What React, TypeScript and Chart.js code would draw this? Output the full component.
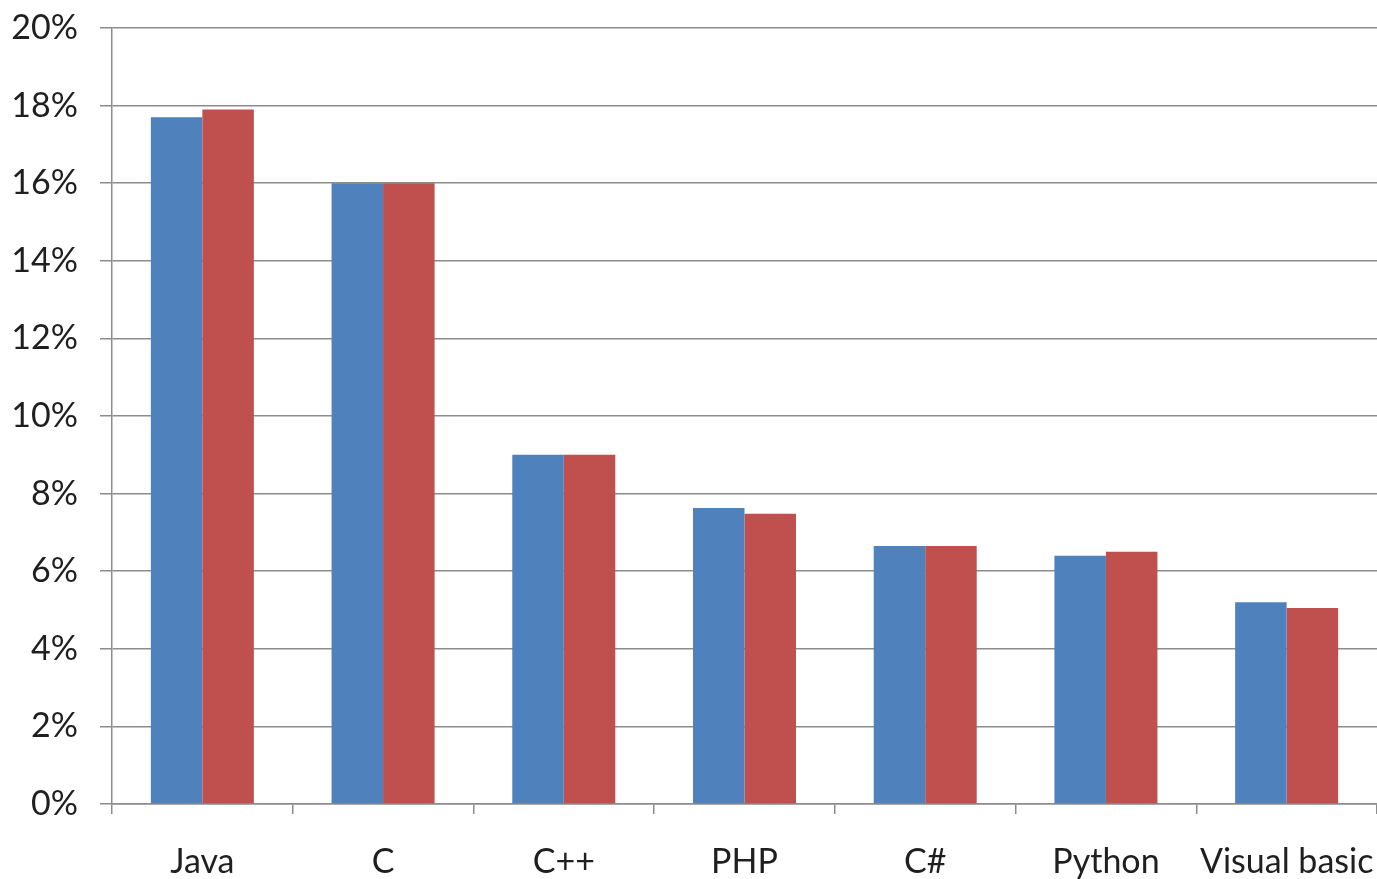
import React, { useEffect, useRef } from "react";
import { Chart, registerables } from "chart.js";

Chart.register(...registerables);

const categories = ["Java", "C", "C++", "PHP", "C#", "Python", "Visual basic"];
const seriesA = [17.7, 16.0, 9.0, 7.63, 6.65, 6.4, 5.2];
const seriesB = [17.9, 16.0, 9.0, 7.48, 6.65, 6.5, 5.05];
const yTicks = [0, 2, 4, 6, 8, 10, 12, 14, 16, 18, 20];

const FONT = "Lato, 'Open Sans', sans-serif";
const GRID = "#8c8c8c";
const TEXT = "#1f1f1f";

export default function App() {
  const ref = useRef<HTMLCanvasElement | null>(null);

  useEffect(() => {
    if (!ref.current) return;
    const chart = new Chart(ref.current, {
      type: "bar",
      data: {
        labels: categories,
        datasets: [
          {
            label: "A",
            data: seriesA,
            backgroundColor: "#4F81BD",
            categoryPercentage: 0.57,
            barPercentage: 1,
          },
          {
            label: "B",
            data: seriesB,
            backgroundColor: "#C0504D",
            categoryPercentage: 0.57,
            barPercentage: 1,
          },
        ],
      },
      options: {
        animation: false,
        responsive: true,
        maintainAspectRatio: false,
        layout: { padding: { top: 28, right: 0, left: 0, bottom: 0 } },
        plugins: {
          legend: { display: false },
          tooltip: { enabled: false },
        },
        scales: {
          x: {
            offset: true,
            grid: {
              display: true,
              drawOnChartArea: false,
              offset: true,
              tickLength: 10,
              color: GRID,
              lineWidth: 1.5,
            },
            border: { display: true, color: GRID, width: 1.5 },
            ticks: {
              color: TEXT,
              font: { family: FONT, size: 34 },
              padding: 28,
              maxRotation: 0,
              minRotation: 0,
              autoSkip: false,
            },
            afterFit: (s: any) => {
              s.height = 75;
              s.paddingLeft = 0;
              s.paddingRight = 0;
            },
          },
          y: {
            min: 0,
            max: 20,
            afterBuildTicks: (s: any) => {
              s.ticks = yTicks.map((v) => ({ value: v }));
            },
            grid: {
              color: GRID,
              lineWidth: 1.5,
              tickLength: 12,
            },
            border: { display: true, color: GRID, width: 1.5 },
            ticks: {
              color: TEXT,
              font: { family: FONT, size: 34 },
              padding: 22,
              callback: (v: any) => `${v}%`,
            },
            afterFit: (s: any) => {
              s.width = 112;
              s.paddingTop = 0;
              s.paddingBottom = 0;
            },
          },
        },
      },
    });
    return () => chart.destroy();
  }, []);

  return (
    <div style={{ position: "fixed", left: 0, top: 0, width: 1377, height: 879, background: "#fff" }}>
      <canvas ref={ref} />
    </div>
  );
}
